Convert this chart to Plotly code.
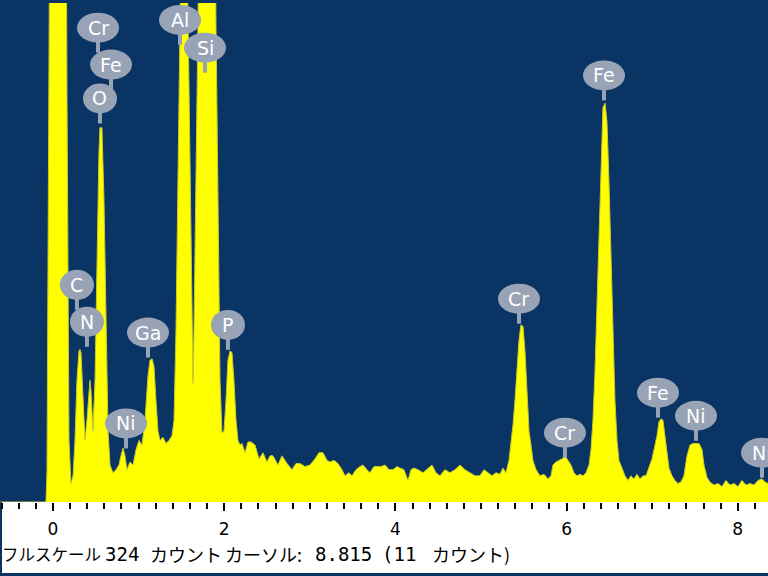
import plotly.graph_objects as go

# Spectrum (energy in keV, counts)
energy_kev = [
    -0.619, -0.082, -0.070, -0.058, -0.047, -0.035, 0.047, 0.152, 0.164, 0.175,
    0.187, 0.210, 0.234, 0.257, 0.280, 0.304, 0.315, 0.327, 0.350, 0.374,
    0.397, 0.421, 0.432, 0.444, 0.467, 0.491, 0.514, 0.537, 0.549, 0.572,
    0.596, 0.619, 0.643, 0.666, 0.701, 0.736, 0.771, 0.794, 0.818, 0.841,
    0.864, 0.900, 0.935, 0.970, 1.005, 1.040, 1.075, 1.110, 1.133, 1.157,
    1.180, 1.203, 1.227, 1.250, 1.285, 1.320, 1.355, 1.390, 1.414, 1.437,
    1.460, 1.484, 1.507, 1.542, 1.577, 1.600, 1.624, 1.636, 1.647, 1.671,
    1.694, 1.717, 1.799, 1.881, 1.904, 1.928, 1.951, 1.974, 1.998, 2.021,
    2.044, 2.068, 2.091, 2.114, 2.138, 2.161, 2.185, 2.208, 2.243, 2.278,
    2.313, 2.360, 2.407, 2.453, 2.500, 2.535, 2.570, 2.628, 2.675, 2.734,
    2.792, 2.839, 2.886, 2.944, 3.002, 3.061, 3.107, 3.154, 3.201, 3.236,
    3.283, 3.329, 3.376, 3.411, 3.458, 3.493, 3.540, 3.586, 3.621, 3.668,
    3.703, 3.750, 3.785, 3.832, 3.879, 3.925, 3.972, 4.019, 4.054, 4.100,
    4.147, 4.182, 4.217, 4.264, 4.322, 4.369, 4.428, 4.474, 4.521, 4.579,
    4.638, 4.696, 4.755, 4.813, 4.871, 4.930, 4.988, 5.035, 5.082, 5.129,
    5.175, 5.222, 5.257, 5.292, 5.327, 5.350, 5.374, 5.397, 5.421, 5.444,
    5.467, 5.491, 5.514, 5.537, 5.561, 5.584, 5.607, 5.643, 5.689, 5.736,
    5.783, 5.818, 5.841, 5.876, 5.911, 5.946, 5.981, 6.016, 6.051, 6.086,
    6.121, 6.157, 6.192, 6.227, 6.262, 6.285, 6.308, 6.332, 6.355, 6.379,
    6.402, 6.425, 6.449, 6.472, 6.495, 6.519, 6.542, 6.565, 6.589, 6.612,
    6.647, 6.682, 6.717, 6.752, 6.787, 6.822, 6.857, 6.893, 6.928, 6.963,
    6.998, 7.033, 7.056, 7.079, 7.103, 7.126, 7.150, 7.173, 7.196, 7.231,
    7.266, 7.301, 7.336, 7.371, 7.407, 7.442, 7.477, 7.512, 7.547, 7.582,
    7.605, 7.640, 7.675, 7.722, 7.769, 7.815, 7.862, 7.909, 7.956, 8.002,
    8.049, 8.096, 8.143, 8.189, 8.236, 8.283, 8.318, 8.353,
]
counts = [
    0, 0, 20, 130, 260, 420, 600, 420, 260, 130,
    40, 12, 17, 40, 79, 98, 99, 97, 66, 40,
    53, 75, 79, 72, 46, 79, 163, 227, 243, 243,
    195, 111, 46, 24, 19, 21, 24, 30, 35, 30,
    21, 26, 24, 34, 40, 37, 53, 82, 92, 93,
    88, 66, 46, 40, 42, 38, 40, 43, 53, 111,
    227, 311, 400, 420, 318, 227, 111, 77, 111, 227,
    311, 500, 700, 500, 311, 195, 79, 45, 46, 66,
    92, 98, 97, 79, 53, 40, 37, 38, 32, 39,
    39, 37, 28, 32, 26, 30, 30, 24, 30, 25,
    21, 25, 25, 23, 24, 28, 32, 32, 27, 26,
    27, 25, 21, 17, 19, 17, 21, 23, 24, 21,
    19, 23, 23, 23, 24, 21, 21, 23, 22, 21,
    14, 21, 22, 21, 19, 21, 24, 19, 17, 21,
    19, 21, 24, 21, 19, 17, 17, 21, 19, 17,
    19, 18, 22, 19, 27, 37, 50, 66, 85, 105,
    115, 114, 98, 72, 46, 37, 27, 21, 17, 18,
    15, 17, 24, 26, 27, 28, 30, 27, 24, 19,
    17, 18, 17, 19, 24, 34, 53, 85, 130, 182,
    227, 256, 259, 247, 208, 156, 105, 66, 40, 27,
    22, 17, 14, 17, 15, 18, 15, 17, 17, 22,
    28, 37, 43, 52, 54, 53, 43, 30, 22, 17,
    14, 12, 13, 17, 30, 37, 38, 38, 38, 34,
    24, 16, 13, 11, 12, 10, 14, 11, 12, 10,
    14, 11, 12, 11, 14, 15, 13, 12,
]

# Element markers (label text, energy and count of the label centre)
label_text = ["Cr", "Fe", "O", "Al", "Si", "C", "N", "Ga", "P", "Ni",
              "Cr", "Cr", "Fe", "Fe", "Ni", "Ni"]
label_kev = [0.526, 0.678, 0.549, 1.484, 1.776, 0.280, 0.397, 1.110, 2.044, 0.853,
             5.444, 5.981, 6.437, 7.068, 7.512, 8.283]
label_cnt = [308, 284, 262, 313, 295, 141, 117, 110, 115, 51,
             132, 45, 277, 71, 56, 32]

tick_vals = [0, 2, 4, 6, 8]
tick_text = ["0", "2", "4", "6", "8"]
full_scale = 324
x_range = [-0.619, 8.353]

# status line pieces: text, left pixel, kind
status_parts = ["フルスケール", "324", "カウント", "カーソル:", "8.815", "(11", "カウント)"]
status_px = [0, 103, 148, 223, 313, 380, 430]
status_kind = ["kana", "num", "kana", "kana", "num", "num", "kana"]

NAVY = "#0A3464"
YELLOW = "#FFFF00"
LABEL = "#98A3B6"

fig = go.Figure()
fig.add_trace(go.Scatter(
    x=energy_kev, y=counts, mode="lines", fill="tozeroy",
    fillcolor=YELLOW, line=dict(color="#C9C92A", width=1),
    hoverinfo="skip", showlegend=False,
))

shapes = []
annotations = []
# white status strip
H_PLOT = 499
shapes.append(dict(type="rect", xref="paper", yref="paper", layer="below",
                   x0=2 / 768, x1=1.0, y0=-(573 - 502) / H_PLOT, y1=0,
                   fillcolor="white", line=dict(width=0)))

for t, e, c in zip(label_text, label_kev, label_cnt):
    w = 42 if len(t) > 1 else 34
    shapes.append(dict(type="line", xref="x", yref="y",
                       xsizemode="pixel", ysizemode="pixel",
                       xanchor=e, yanchor=c, x0=0, x1=0, y0=-10, y1=-25,
                       line=dict(color=LABEL, width=4)))
    shapes.append(dict(type="circle", xref="x", yref="y",
                       xsizemode="pixel", ysizemode="pixel",
                       xanchor=e, yanchor=c, x0=-w / 2, x1=w / 2, y0=-15, y1=15,
                       fillcolor=LABEL, line=dict(width=0)))
    annotations.append(dict(x=e, y=c, xref="x", yref="y", text=t, showarrow=False,
                            font=dict(family="DejaVu Sans", size=19, color="white"),
                            xanchor="center", yanchor="middle"))

for s, px, kind in zip(status_parts, status_px, status_kind):
    if kind == "num":
        fnt = dict(family="DejaVu Sans Mono", size=19, color="black")
    else:
        fnt = dict(family="Noto Sans CJK JP", size=16.5 if px == 0 else 18, color="black")
    annotations.append(dict(
        x=px / 768, y=-(554 - 502) / H_PLOT, xref="paper", yref="paper",
        text=s, showarrow=False, xanchor="left", yanchor="middle", font=fnt))

fig.update_layout(
    width=768, height=576,
    margin=dict(l=0, r=0, t=3, b=74, pad=0, autoexpand=False),
    paper_bgcolor=NAVY, plot_bgcolor=NAVY,
    shapes=shapes, annotations=annotations,
    showlegend=False,
    xaxis=dict(range=x_range, showgrid=False, zeroline=False, showline=False,
               automargin=False,
               tickmode="array", tickvals=tick_vals, ticktext=tick_text,
               ticks="outside", ticklen=8, tickwidth=2, tickcolor="black",
               ticklabelstandoff=4,
               minor=dict(dtick=0.2, tick0=0, ticks="outside", ticklen=6,
                          tickwidth=2, tickcolor="black", showgrid=False),
               tickfont=dict(family="DejaVu Sans", size=17, color="black"),
               fixedrange=True),
    yaxis=dict(range=[0, full_scale], visible=False, fixedrange=True,
               automargin=False),
)

fig.write_html("out.html",
               config={"displayModeBar": False},
               post_script="document.body.style.margin='0';document.body.style.overflow='hidden';")
